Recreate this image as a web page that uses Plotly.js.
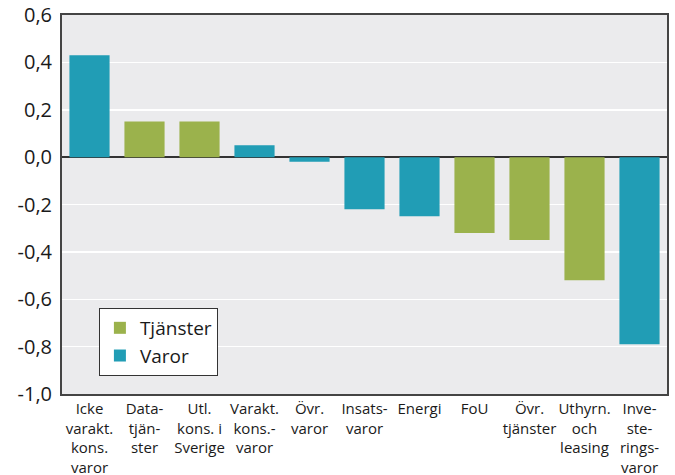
<!DOCTYPE html>
<html>
<head>
<meta charset="utf-8">
<script src="https://cdn.plot.ly/plotly-3.0.1.min.js"></script>
<style>html,body{margin:0;padding:0;background:#fff;}#chart{width:675px;height:475px;}</style>
</head>
<body>
<div id="chart"></div>
<script>
const categories = [
  "Icke<br>varakt.<br>kons.<br>varor",
  "Data-<br>tjän-<br>ster",
  "Utl.<br>kons. i<br>Sverige",
  "Varakt.<br>kons.-<br>varor",
  "Övr.<br>varor",
  "Insats-<br>varor",
  "Energi",
  "FoU",
  "Övr.<br>tjänster",
  "Uthyrn.<br>och<br>leasing",
  "Inve-<br>ste-<br>rings-<br>varor"
];
const tjanster = [null, 0.15, 0.15, null, null, null, null, -0.32, -0.35, -0.52, null];
const varor    = [0.43, null, null, 0.05, -0.02, -0.22, -0.25, null, null, null, -0.79];
const yTickVals = [0.6, 0.4, 0.2, 0.0, -0.2, -0.4, -0.6, -0.8, -1.0];
const yTickText = ["0,6", "0,4", "0,2", "0,0", "-0,2", "-0,4", "-0,6", "-0,8", "-1,0"];

const font = "'Open Sans', 'Noto Sans', sans-serif";

const traces = [
  {type: "bar", name: "Tjänster", x: categories, y: tjanster, marker: {color: "#9BB24C"}},
  {type: "bar", name: "Varor", x: categories, y: varor, marker: {color: "#219DB5"}}
];

const layout = {
  width: 675, height: 475,
  margin: {l: 62, r: 8, t: 15, b: 81},
  paper_bgcolor: "#ffffff",
  plot_bgcolor: "#EBEBED",
  barmode: "overlay",
  bargap: 0.27,
  showlegend: true,
  legend: {
    x: 0.061, y: 0.227, xanchor: "left", yanchor: "top",
    bgcolor: "#ffffff", bordercolor: "#333333", borderwidth: 1,
    font: {family: font, size: 19, color: "#1a1a1a"},
    traceorder: "normal",
    itemwidth: 30
  },
  xaxis: {
    type: "category",
    showline: true, linecolor: "#444", linewidth: 2, mirror: true,
    ticks: "", showgrid: false,
    tickfont: {family: font, size: 15, color: "#1a1a1a"},
    tickangle: 0,
    fixedrange: true
  },
  yaxis: {
    range: [-1.0, 0.6],
    tickvals: yTickVals, ticktext: yTickText,
    showline: true, linecolor: "#444", linewidth: 2, mirror: true,
    showgrid: true, gridcolor: "#ffffff", gridwidth: 1.5,
    zeroline: true, zerolinecolor: "#333", zerolinewidth: 2,
    ticks: "outside", ticklen: 4, tickcolor: "rgba(0,0,0,0)",
    tickfont: {family: font, size: 20, color: "#1a1a1a"},
    fixedrange: true
  }
};

Plotly.newPlot("chart", traces, layout, {displayModeBar: false, staticPlot: true});
</script>
</body>
</html>
